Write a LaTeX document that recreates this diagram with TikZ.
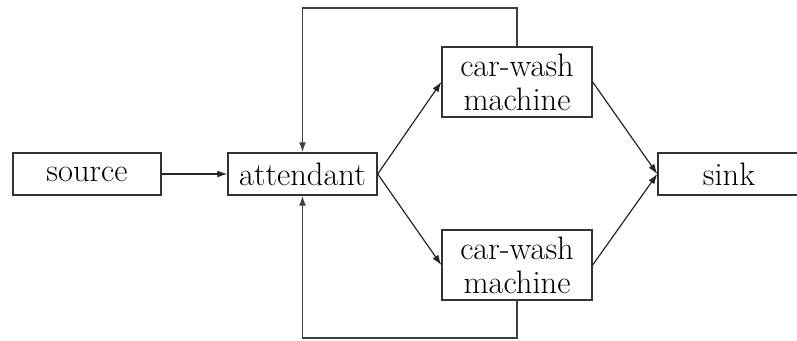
\documentclass[tikz,border=0pt]{standalone}
\usetikzlibrary{arrows.meta}
\begin{document}
\begin{tikzpicture}[x=1pt,y=-1pt,
  block/.style={draw=black!80, line width=1.4pt, fill=white, inner sep=0pt,
    align=center, font=\fontsize{32.5}{34}\selectfont},
  flow/.style={draw=black!85, line width=1.2pt, -{Latex[length=10pt,width=7pt]}},
  loopline/.style={draw=black!75, line width=1.6pt, -{Latex[length=10pt,width=7pt]}}]
  \clip (0,0) rectangle (797,340);
  % stations
  \node[block, minimum width=148pt, minimum height=42pt] (src) at (87,174) {source};
  \node[block, minimum width=149pt, minimum height=42pt] (att) at (302.5,174) {attendant};
  \node[block, minimum width=150pt, minimum height=70pt] (cw1) at (517,82) {car-wash\\machine};
  \node[block, minimum width=150pt, minimum height=70pt] (cw2) at (517,265) {car-wash\\machine};
  \node[block, minimum width=142pt, minimum height=42pt] (snk) at (729,174) {sink};
  % forward flow
  \draw[flow] (src.east) -- (att.west);
  \draw[flow] (att.east) -- (cw1.west);
  \draw[flow] (att.east) -- (cw2.west);
  \draw[flow] (cw1.east) -- (snk.west);
  \draw[flow] (cw2.east) -- (snk.west);
  % return paths back to the attendant
  \coordinate (t1) at (517,8);
  \coordinate (t2) at (302.5,8);
  \coordinate (b1) at (517,338);
  \coordinate (b2) at (302.5,338);
  \draw[loopline] (cw1.north) -- (t1) -- (t2) -- (att.north);
  \draw[loopline] (cw2.south) -- (b1) -- (b2) -- (att.south);
\end{tikzpicture}
\end{document}
